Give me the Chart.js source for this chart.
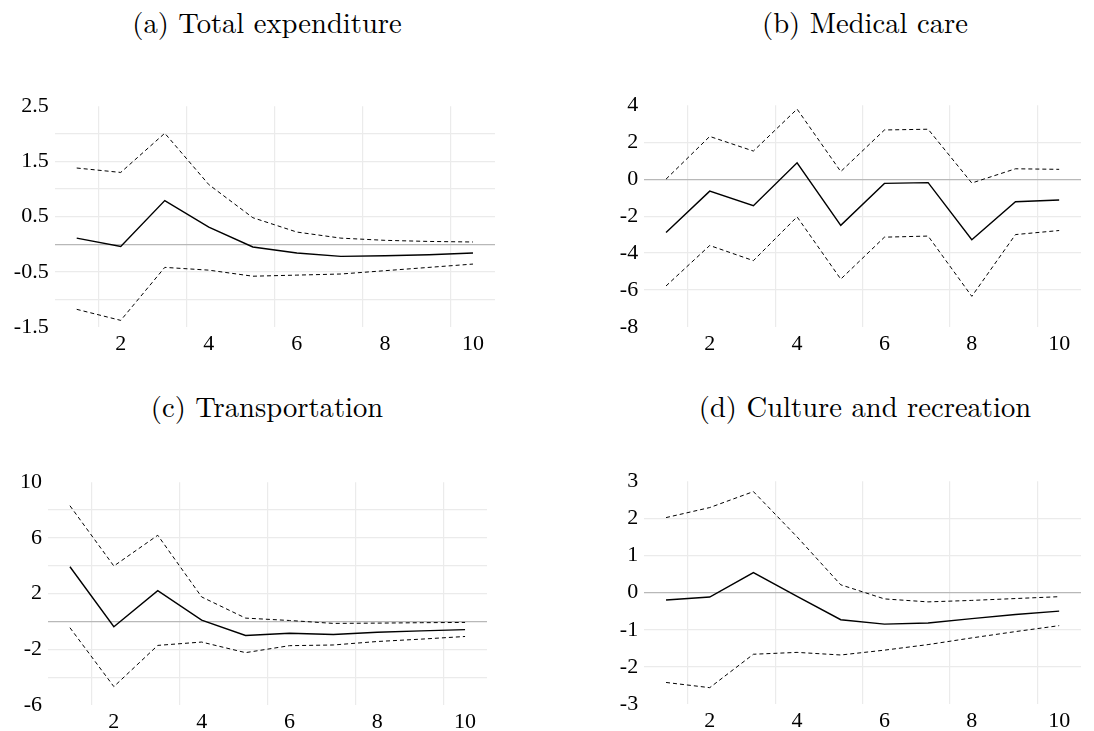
<!DOCTYPE html>
<html>
<head>
<meta charset="utf-8">
<script src="https://cdn.jsdelivr.net/npm/chart.js@4.4.1/dist/chart.umd.min.js"></script>
<style>
  body { margin: 0; background: #fff; width: 1094px; height: 731px; position: relative; overflow: hidden; }
  canvas { position: absolute; }
  .ttl { position: absolute; font-family: 'Latin Modern Roman', 'Liberation Serif', serif; font-size: 28.6px;
         line-height: 1; color: #000; transform: translate(-50%, -50%); white-space: nowrap; }
</style>
</head>
<body>
<div class="ttl" style="left:267px; top:21px;">(a) Total expenditure</div>
<div class="ttl" style="left:865px; top:21px;">(b) Medical care</div>
<div class="ttl" style="left:267px; top:405px;">(c) Transportation</div>
<div class="ttl" style="left:865px; top:405px;">(d) Culture and recreation</div>
<canvas id="cA"></canvas>
<canvas id="cB"></canvas>
<canvas id="cC"></canvas>
<canvas id="cD"></canvas>
<script>
// horizons
const horizons = [1, 2, 3, 4, 5, 6, 7, 8, 9, 10];
const xGridAt = [1.5, 3.5, 5.5, 7.5, 9.5];
const xTickLabels = [2, 4, 6, 8, 10];

// (a) Total expenditure
const totalIrf   = [0.11, -0.04, 0.79, 0.31, -0.05, -0.16, -0.22, -0.21, -0.19, -0.16];
const totalUpper = [1.38, 1.30, 2.01, 1.08, 0.48, 0.22, 0.11, 0.07, 0.05, 0.04];
const totalLower = [-1.18, -1.38, -0.42, -0.47, -0.58, -0.56, -0.54, -0.48, -0.42, -0.36];
const totalYTicks = [-1.5, -1, -0.5, 0, 0.5, 1, 1.5, 2, 2.5];
const totalYLabels = [-1.5, -0.5, 0.5, 1.5, 2.5];

// (b) Medical care
const medIrf   = [-2.89, -0.65, -1.44, 0.88, -2.50, -0.23, -0.19, -3.28, -1.22, -1.13];
const medUpper = [0.0, 2.31, 1.52, 3.79, 0.41, 2.66, 2.70, -0.21, 0.56, 0.53];
const medLower = [-5.78, -3.59, -4.41, -2.04, -5.41, -3.14, -3.08, -6.34, -3.00, -2.78];
const medYTicks = [-8, -6, -4, -2, 0, 2, 4];
const medYLabels = [-8, -6, -4, -2, 0, 2, 4];

// (c) Transportation
const transIrf   = [3.93, -0.38, 2.21, 0.09, -1.01, -0.85, -0.94, -0.78, -0.68, -0.59];
const transUpper = [8.31, 3.98, 6.19, 1.76, 0.24, 0.07, -0.14, -0.12, -0.09, -0.07];
const transLower = [-0.45, -4.68, -1.72, -1.48, -2.24, -1.74, -1.69, -1.44, -1.27, -1.08];
const transYTicks = [-6, -4, -2, 0, 2, 4, 6, 8, 10];
const transYLabels = [-6, -2, 2, 6, 10];

// (d) Culture and recreation
const cultIrf   = [-0.20, -0.12, 0.54, -0.10, -0.73, -0.85, -0.82, -0.70, -0.59, -0.50];
const cultUpper = [2.02, 2.29, 2.72, 1.50, 0.21, -0.17, -0.25, -0.21, -0.16, -0.11];
const cultLower = [-2.42, -2.56, -1.66, -1.61, -1.68, -1.55, -1.40, -1.22, -1.05, -0.89];
const cultYTicks = [-3, -2, -1, 0, 1, 2, 3];
const cultYLabels = [-3, -2, -1, 0, 1, 2, 3];

const tickFont = { family: '"Liberation Serif", serif', size: 22 };
const gridColor = '#ebebeb';
const zeroColor = '#b8b8b8';

const makePanel = (id, irf, upper, lower, yTicks, yLabels, area, canvasLeft) => {
    const padTop = 14, padRight = 14, xAxisH = 34;
    const canvas = document.getElementById(id);
    const w = Math.round(area.r + padRight - canvasLeft);
    const top = Math.round(area.t - padTop);
    const h = Math.round(area.b + xAxisH - top);
    canvas.width = w;
    canvas.height = h;
    canvas.style.left = canvasLeft + 'px';
    canvas.style.top = top + 'px';
    canvas.style.width = w + 'px';
    canvas.style.height = h + 'px';
    const yMin = yTicks[0], yMax = yTicks[yTicks.length - 1];
    const xTicks = [...xGridAt, ...xTickLabels].sort((a, b) => a - b);

    const line = (data, dashed) => ({
        data: horizons.map((x, i) => ({ x, y: data[i] })),
        borderColor: '#000',
        borderWidth: dashed ? 1 : 1.4,
        borderDash: dashed ? [4, 3] : [],
        pointRadius: 0,
        tension: 0,
        fill: false,
    });

    return new Chart(canvas.getContext('2d'), {
        type: 'line',
        data: { datasets: [line(upper, true), line(irf, false), line(lower, true)] },
        options: {
            responsive: false,
            animation: false,
            layout: { padding: { top: padTop, right: padRight, left: 0, bottom: 0 } },
            plugins: { legend: { display: false }, tooltip: { enabled: false } },
            scales: {
                x: {
                    type: 'linear',
                    min: 0.5,
                    max: 10.5,
                    afterBuildTicks: (scale) => { scale.ticks = xTicks.map((v) => ({ value: v })); },
                    afterFit: (scale) => { scale.height = xAxisH; },
                    border: { display: false },
                    grid: {
                        drawTicks: false,
                        lineWidth: 1.2,
                        color: (ctx) => (ctx.tick && xGridAt.includes(ctx.tick.value) ? gridColor : 'rgba(0,0,0,0)'),
                    },
                    ticks: {
                        autoSkip: false,
                        maxRotation: 0,
                        padding: 4,
                        color: '#000',
                        font: tickFont,
                        callback: (v) => (xTickLabels.includes(v) ? String(v) : ''),
                    },
                },
                y: {
                    min: yMin,
                    max: yMax,
                    afterBuildTicks: (scale) => { scale.ticks = yTicks.map((v) => ({ value: v })); },
                    afterFit: (scale) => { scale.width = area.l - canvasLeft; },
                    border: { display: false },
                    grid: {
                        drawTicks: false,
                        lineWidth: 1.2,
                        color: (ctx) => {
                            const v = ctx.tick ? ctx.tick.value : null;
                            if (v === yMin || v === yMax) return 'rgba(0,0,0,0)';
                            return v === 0 ? zeroColor : gridColor;
                        },
                    },
                    ticks: {
                        autoSkip: false,
                        padding: 6,
                        color: '#000',
                        font: tickFont,
                        callback: (v) => (yLabels.includes(v) ? String(v) : ''),
                    },
                },
            },
        },
    });
};

const drawAll = () => {
    makePanel('cA', totalIrf, totalUpper, totalLower, totalYTicks, totalYLabels,
        { l: 54.7, r: 494.7, t: 100.7, b: 327.3 }, 0);
    makePanel('cB', medIrf, medUpper, medLower, medYTicks, medYLabels,
        { l: 644.2, r: 1080.8, t: 100.4, b: 327 }, 560);
    makePanel('cC', transIrf, transUpper, transLower, transYTicks, transYLabels,
        { l: 48, r: 487.3, t: 476.7, b: 704.6 }, 0);
    makePanel('cD', cultIrf, cultUpper, cultLower, cultYTicks, cultYLabels,
        { l: 644.2, r: 1080.8, t: 476, b: 704.3 }, 560);
};

// make sure the serif face is ready before the canvases are painted
document.fonts.load('22px "Liberation Serif"').then(drawAll, drawAll);
</script>
</body>
</html>
